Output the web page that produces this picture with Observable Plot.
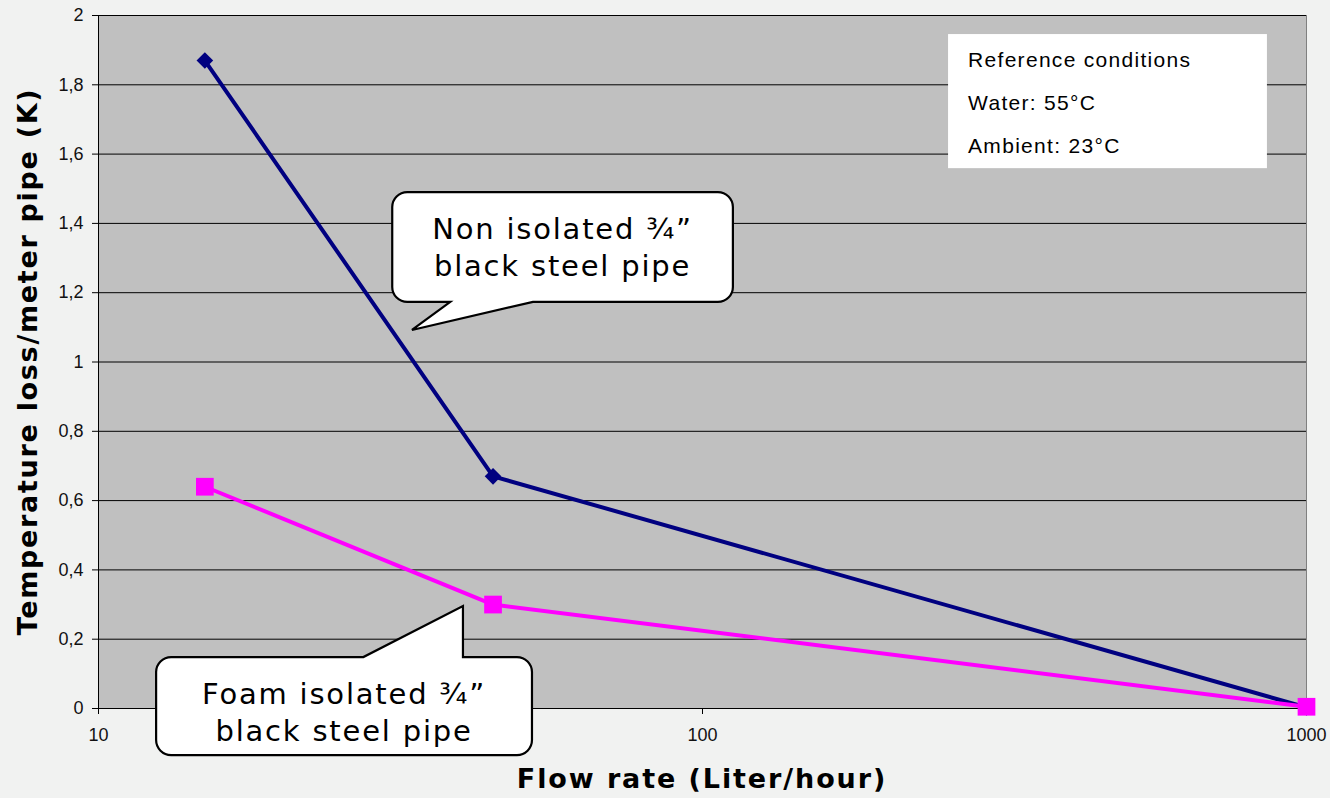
<!DOCTYPE html>
<html><head><meta charset="utf-8">
<script src="https://cdn.jsdelivr.net/npm/d3@7"></script>
<script src="https://cdn.jsdelivr.net/npm/@observablehq/plot@0.6"></script>
<style>
html,body{margin:0;padding:0;background:#f1f2f1;}
#chart svg{display:block;}
</style></head><body><div id="chart"></div>
<script>
// ---- data ----
const flowRates = [15, 45, 1000];
const nonIsolated = [1.87, 0.67, 0.003];
const foamIsolated = [0.64, 0.30, 0.005];
const xTicks = [10, 100, 1000];
const yTicks = [0, 0.2, 0.4, 0.6, 0.8, 1, 1.2, 1.4, 1.6, 1.8, 2];
const xTitle = "Flow rate (Liter/hour)";
const yTitle = "Temperature loss/meter pipe (K)";
const refLines = ["Reference conditions", "Water: 55°C", "Ambient: 23°C"];
// annotation anchors in data units (x: flow rate, y: K)
const refBox = {x1: 255.5, x2: 861.6, y1: 1.945, y2: 1.558};
const callouts = [
  {lines: ["Non isolated ¾”", "black steel pipe"], x1: 30.7, x2: 112.5, y1: 1.489, y2: 1.172, tipX: 33.1, tipY: 1.091, baseX1: 38.3, baseX2: 52.5},
  {lines: ["Foam isolated ¾”", "black steel pipe"], x1: 12.48, x2: 52.3, y1: 0.147, y2: -0.136, tipX: 40.2, tipY: 0.294, baseX1: 27.5, baseX2: 40.2}
];

const rowsNon = flowRates.map((f, i) => ({flow: f, loss: nonIsolated[i]}));
const rowsFoam = flowRates.map((f, i) => ({flow: f, loss: foamIsolated[i]}));

const fmt = d => String(d).replace(".", ",");
const VERDANA = "'DejaVu Sans', Verdana, sans-serif";
const ARIAL = "'Liberation Sans', Arial, sans-serif";

function annotationMark(index, scales, values, dims) {
  const g = d3.create("svg:g");
  const r = 15;
  for (const c of callouts) {
    const L = scales.x(c.x1), R = scales.x(c.x2), T = scales.y(c.y1), B = scales.y(c.y2);
    const tx = scales.x(c.tipX), ty = scales.y(c.tipY);
    const b1 = scales.x(c.baseX1), b2 = scales.x(c.baseX2);
    let p = `M${L + r},${T}`;
    if (ty < T) p += `L${b1},${T}L${tx},${ty}L${b2},${T}`;
    p += `L${R - r},${T}A${r},${r} 0 0 1 ${R},${T + r}L${R},${B - r}A${r},${r} 0 0 1 ${R - r},${B}`;
    if (ty > B) p += `L${b2},${B}L${tx},${ty}L${b1},${B}`;
    p += `L${L + r},${B}A${r},${r} 0 0 1 ${L},${B - r}L${L},${T + r}A${r},${r} 0 0 1 ${L + r},${T}Z`;
    g.append("path").attr("d", p).attr("fill", "white").attr("stroke", "black").attr("stroke-width", 2.2).attr("stroke-linejoin", "miter");
    const cx = (L + R) / 2;
    c.lines.forEach((t, i) => {
      g.append("text").attr("x", cx).attr("y", T + 47 + i * 37)
        .attr("text-anchor", "middle").attr("font-family", VERDANA)
        .attr("font-size", 29).attr("letter-spacing", 1.8).attr("fill", "black").text(t);
    });
  }
  // reference conditions box
  const L = scales.x(refBox.x1), R = scales.x(refBox.x2), T = scales.y(refBox.y1), B = scales.y(refBox.y2);
  g.append("rect").attr("x", L).attr("y", T).attr("width", R - L).attr("height", B - T).attr("fill", "white");
  refLines.forEach((t, i) => {
    g.append("text").attr("x", L + 20).attr("y", T + 33 + i * 43)
      .attr("text-anchor", "start")
      .attr("font-family", ARIAL).attr("font-size", 21).attr("letter-spacing", 1.3).attr("fill", "black").text(t);
  });
  // axis titles
  const {width, height, marginLeft, marginRight, marginTop, marginBottom} = dims;
  const fx = (marginLeft + width - marginRight) / 2;
  const fy = (marginTop + height - marginBottom) / 2;
  g.append("text").attr("x", fx).attr("y", height - marginBottom + 80)
    .attr("text-anchor", "middle").attr("font-family", VERDANA).attr("font-weight", "bold")
    .attr("font-size", 27).attr("letter-spacing", 1.9).attr("fill", "black").text(xTitle);
  g.append("text").attr("transform", `translate(${marginLeft - 61},${fy}) rotate(-90)`)
    .attr("text-anchor", "middle").attr("font-family", VERDANA).attr("font-weight", "bold")
    .attr("font-size", 27).attr("letter-spacing", 1.7).attr("fill", "black").text(yTitle);
  return g.node();
}

const chart = Plot.plot({
  width: 1330,
  height: 798,
  marginLeft: 98,
  marginRight: 24,
  marginTop: 15,
  marginBottom: 90,
  style: {background: "#f1f2f1", fontFamily: ARIAL, color: "black"},
  x: {type: "log", domain: [10, 1000]},
  y: {domain: [0, 2]},
  marks: [
    Plot.frame({fill: "#c0c0c0", stroke: null}),
    Plot.ruleY(yTicks, {stroke: "black", strokeWidth: 1}),
    Plot.ruleX([1000], {stroke: "#808080", strokeWidth: 1}),
    Plot.ruleX([10], {stroke: "black", strokeWidth: 1}),
    Plot.axisY({ticks: yTicks, tickFormat: fmt, tickSize: 6, tickPadding: 9, fontSize: 18, label: null, stroke: "black", fill: "#111"}),
    Plot.axisX({ticks: xTicks, tickFormat: d => String(d), tickSize: 6, tickPadding: 14, fontSize: 18, label: null, stroke: "black", fill: "#111"}),
    Plot.line(rowsNon, {x: "flow", y: "loss", stroke: "#000080", strokeWidth: 4}),
    Plot.dot(rowsNon, {x: "flow", y: "loss", symbol: "diamond2", r: 7.5, fill: "#000080", stroke: null}),
    Plot.line(rowsFoam, {x: "flow", y: "loss", stroke: "#ff00ff", strokeWidth: 4}),
    Plot.dot(rowsFoam, {x: "flow", y: "loss", symbol: "square", r: 10, fill: "#ff00ff", stroke: null}),
    annotationMark
  ]
});
document.getElementById("chart").appendChild(chart);
</script>
</body></html>
